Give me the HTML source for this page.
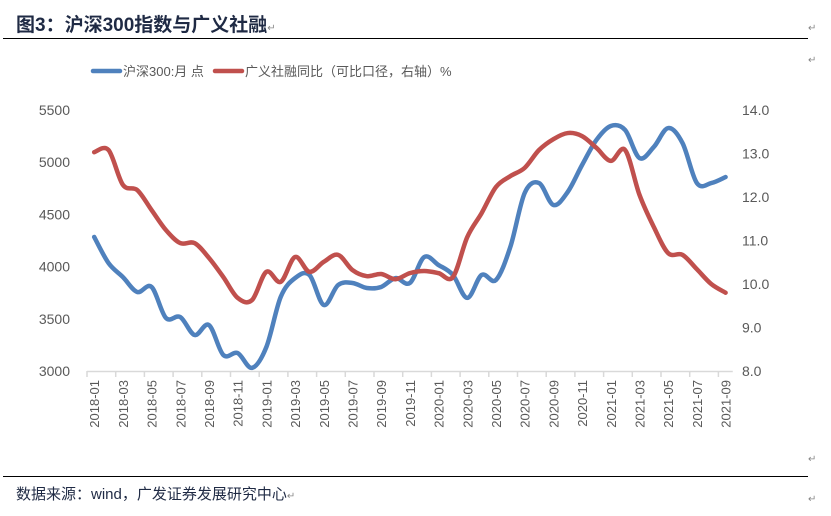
<!DOCTYPE html>
<html><head><meta charset="utf-8">
<style>
body{margin:0;background:#fff;width:831px;height:511px;overflow:hidden;font-family:"Liberation Sans","Noto Sans CJK SC",sans-serif;}
svg text{font-family:"Liberation Sans","Noto Sans CJK SC",sans-serif;}
</style></head>
<body>
<svg id="c" width="831" height="511" viewBox="0 0 831 511" xmlns="http://www.w3.org/2000/svg">
<text x="16" y="31" font-size="19" font-weight="bold" fill="#1f2a44">图3：沪深300指数与广义社融<tspan font-size="10" font-weight="normal" fill="#888">↵</tspan></text>
<text x="808" y="31" font-size="10" fill="#888">↵</text>
<line x1="3" y1="38.5" x2="808" y2="38.5" stroke="#000" stroke-width="1"/>
<text x="808" y="63" font-size="10" fill="#888">↵</text>
<g>
<line x1="93" y1="71" x2="120" y2="71" stroke="#4f81bd" stroke-width="4.5" stroke-linecap="round"/>
<text x="123" y="76" font-size="13" fill="#595959">沪深300:月 点</text>
<line x1="215" y1="71" x2="242" y2="71" stroke="#c0504d" stroke-width="4.5" stroke-linecap="round"/>
<text x="245" y="76" font-size="13" fill="#595959">广义社融同比（可比口径，右轴）%</text>
</g>
<g id="axes"></g>
<g id="series"></g>
<line x1="3" y1="476.5" x2="808" y2="476.5" stroke="#000" stroke-width="1"/>
<text x="808" y="462" font-size="10" fill="#888">↵</text>
<text x="16" y="499" font-size="15" fill="#1f2a44">数据来源：wind，广发证券发展研究中心<tspan font-size="10" fill="#888">↵</tspan></text>
<text x="808" y="502" font-size="10" fill="#888">↵</text>
</svg>
<script>
const categories=[];for(let y=2018;y<=2021;y++)for(let m=1;m<=12;m++){if(y===2021&&m>9)break;categories.push(y+'-'+String(m).padStart(2,'0'));}
const csi300=[4284,4034,3900,3757,3805,3508,3517,3345,3440,3153,3172,3030,3230,3710,3890,3920,3632,3824,3843,3795,3805,3890,3843,4092,4015,3920,3700,3920,3872,4188,4705,4800,4590,4715,4973,5213,5347,5308,5040,5146,5327,5183,4800,4800,4858];
const tsf=[13.03,13.08,12.28,12.16,11.70,11.24,10.94,10.94,10.60,10.16,9.68,9.63,10.28,10.05,10.62,10.28,10.51,10.67,10.32,10.18,10.23,10.11,10.25,10.30,10.25,10.16,11.08,11.63,12.23,12.48,12.67,13.08,13.33,13.47,13.40,13.13,12.83,13.08,12.05,11.31,10.71,10.67,10.34,10.00,9.80];
const leftTicks=[3000,3500,4000,4500,5000,5500];
const rightTicks=[8,9,10,11,12,13,14];
const NS='http://www.w3.org/2000/svg';
const X0=87,STEP=14.35,YT=110,YB=371;
const x=i=>X0+STEP*(i+0.5);
const yL=v=>YB-(v-3000)/2500*(YB-YT);
const yR=v=>YB-(v-8)/6*(YB-YT);
function mk(tag,attrs,parent){const e=document.createElementNS(NS,tag);for(const k in attrs)e.setAttribute(k,attrs[k]);parent.appendChild(e);return e;}
const ax=document.getElementById('axes');
const xEnd=X0+STEP*categories.length;
const xl=mk('line',{x1:X0,y1:YB+0.5,x2:xEnd,y2:YB+0.5,stroke:'#d9d9d9','stroke-width':1.5},ax);


for(let i=0;i<=categories.length;i+=2){
  const t=mk('line',{x1:X0+STEP*i,y1:YB,x2:X0+STEP*i,y2:YB+6,stroke:'#d9d9d9','stroke-width':1.5},ax);
  
  
}
categories.forEach((c,i)=>{if(i%2)return;
  const t=mk('text',{x:0,y:0,'font-size':13,fill:'#595959','text-anchor':'end',transform:`translate(${x(i)+5},${YB+9}) rotate(-90)`},ax);
  t.textContent=c;
  
  
});
leftTicks.forEach(v=>{
  const t=mk('text',{x:70,y:yL(v)+5,'font-size':14,fill:'#595959','text-anchor':'end'},ax);
  t.textContent=v;
  
  
});
rightTicks.forEach(v=>{
  const t=mk('text',{x:742,y:yR(v)+5,'font-size':14,fill:'#595959'},ax);
  t.textContent=v.toFixed(1);
  
  
});
function smooth(pts){let d=`M${pts[0][0]},${pts[0][1]}`;
  for(let i=0;i<pts.length-1;i++){const p0=pts[i-1]||pts[i],p1=pts[i],p2=pts[i+1],p3=pts[i+2]||p2;
    const c1=[p1[0]+(p2[0]-p0[0])/6,p1[1]+(p2[1]-p0[1])/6],c2=[p2[0]-(p3[0]-p1[0])/6,p2[1]-(p3[1]-p1[1])/6];
    d+=` C${c1[0]},${c1[1]} ${c2[0]},${c2[1]} ${p2[0]},${p2[1]}`;}
  return d;}
const sg=document.getElementById('series');
const pb=mk('path',{d:smooth(csi300.map((v,i)=>[x(i),yL(v)])),fill:'none',stroke:'#4f81bd','stroke-width':4.5,'stroke-linecap':'round','stroke-linejoin':'round'},sg);


const pr=mk('path',{d:smooth(tsf.map((v,i)=>[x(i),yR(v)])),fill:'none',stroke:'#c0504d','stroke-width':4.5,'stroke-linecap':'round','stroke-linejoin':'round'},sg);


</script>
</body></html>
